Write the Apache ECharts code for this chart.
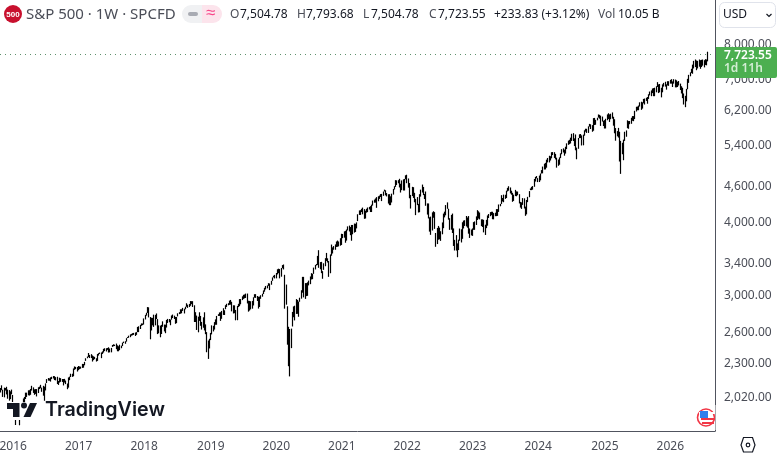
<!DOCTYPE html>
<html><head><meta charset="utf-8">
<style>html,body{margin:0;padding:0;background:#fff}#c{width:777px;height:454px}</style>
<script src="https://cdn.jsdelivr.net/npm/echarts@6/dist/echarts.min.js"></script>
</head><body><div id="c"></div>
<script>
// Weekly [low, high], per year
const bars2015=[[2058,2094],[2076,2116],[2022,2080],[2019,2097],[2073,2094],[2042,2104],[2008,2081],[1993,2077],[2005,2067],[2043,2081]];
const bars2016=[[1918,2038],[1878,1950],[1812,1908],[1872,1940],[1873,1947],[1810,1882],[1864,1930],[1891,1963],[1931,2010],[1971,2022],[2006,2056],[2022,2056],[2035,2075],[2033,2076],[2039,2086],[2073,2112],[2054,2099],[2039,2083],[2046,2085],[2026,2085],[2053,2100],[2085,2105],[2092,2120],[2063,2097],[2032,2112],[1992,2105],[2074,2132],[2135,2168],[2155,2177],[2154,2174],[2147,2183],[2168,2188],[2173,2194],[2160,2193],[2157,2185],[2127,2188],[2119,2152],[2139,2180],[2145,2176],[2144,2169],[2115,2169],[2139,2170],[2126,2156],[2084,2131],[2097,2182],[2159,2189],[2186,2214],[2187,2214],[2192,2260],[2248,2278],[2254,2274],[2233,2273]];
const bars2017=[[2245,2282],[2254,2278],[2258,2276],[2265,2301],[2267,2300],[2288,2319],[2328,2352],[2352,2368],[2363,2401],[2354,2383],[2354,2390],[2322,2378],[2335,2370],[2344,2365],[2322,2352],[2328,2391],[2377,2399],[2392,2405],[2353,2406],[2392,2416],[2405,2440],[2419,2446],[2415,2446],[2430,2448],[2405,2455],[2407,2443],[2407,2449],[2459,2477],[2465,2484],[2467,2480],[2437,2491],[2417,2474],[2417,2465],[2428,2480],[2446,2471],[2467,2500],[2496,2510],[2489,2514],[2510,2544],[2545,2555],[2548,2569],[2554,2582],[2569,2587],[2573,2594],[2577,2597],[2566,2601],[2577,2605],[2605,2658],[2605,2665],[2637,2680],[2670,2695],[2677,2694]];
const bars2018=[[2683,2748],[2737,2787],[2778,2810],[2808,2873],[2759,2870],[2533,2763],[2622,2755],[2675,2754],[2659,2789],[2675,2787],[2742,2802],[2585,2741],[2593,2675],[2553,2672],[2586,2680],[2660,2717],[2612,2683],[2594,2682],[2652,2732],[2700,2743],[2707,2742],[2676,2736],[2735,2780],[2753,2790],[2742,2778],[2691,2764],[2698,2764],[2770,2804],[2795,2816],[2799,2848],[2804,2848],[2830,2864],[2802,2855],[2848,2877],[2876,2916],[2864,2900],[2873,2908],[2887,2941],[2906,2940],[2874,2940],[2710,2893],[2710,2816],[2627,2779],[2603,2767],[2722,2815],[2670,2775],[2631,2711],[2650,2760],[2622,2815],[2584,2685],[2408,2605],[2346,2521],[2444,2538]];
const bars2019=[[2525,2597],[2582,2675],[2612,2670],[2631,2709],[2681,2738],[2681,2775],[2775,2794],[2775,2813],[2722,2816],[2744,2830],[2786,2860],[2785,2837],[2849,2894],[2874,2910],[2893,2917],[2898,2946],[2900,2954],[2825,2933],[2802,2893],[2805,2892],[2728,2841],[2729,2886],[2873,2910],[2883,2964],[2904,2964],[2952,2996],[2966,3014],[2973,3018],[2977,3028],[2914,3029],[2822,2945],[2834,2943],[2847,2939],[2855,2943],[2891,2985],[2980,3021],[2978,3022],[2942,3000],[2856,2991],[2874,2993],[2967,3009],[2992,3027],[3023,3066],[3051,3098],[3078,3120],[3091,3127],[3121,3154],[3070,3150],[3135,3183],[3183,3226],[3226,3247],[3213,3258]];
const bars2020=[[3214,3282],[3264,3330],[3280,3338],[3214,3333],[3235,3347],[3344,3385],[3328,3393],[2855,3259],[2900,3137],[2480,2882],[2280,2660],[2191,2637],[2447,2641],[2663,2819],[2761,2880],[2727,2888],[2797,2964],[2798,2954],[2766,2935],[2933,2980],[2969,3068],[3039,3233],[2984,3233],[2966,3155],[2999,3155],[3002,3165],[3127,3186],[3142,3238],[3200,3280],[3204,3272],[3271,3352],[3328,3387],[3380,3400],[3387,3509],[3349,3588],[3330,3425],[3280,3428],[3209,3306],[3323,3409],[3370,3478],[3440,3550],[3420,3476],[3233,3440],[3279,3529],[3511,3668],[3542,3628],[3594,3646],[3594,3670],[3633,3712],[3636,3726],[3642,3712],[3652,3760]];
const bars2021=[[3662,3826],[3761,3823],[3768,3862],[3694,3870],[3725,3890],[3876,3938],[3860,3950],[3805,3928],[3723,3960],[3818,3960],[3843,3982],[3853,3978],[3907,4000],[4020,4129],[4118,4191],[4118,4195],[4165,4218],[4128,4238],[4056,4213],[4061,4187],[4155,4218],[4164,4240],[4207,4249],[4165,4262],[4165,4287],[4271,4356],[4320,4372],[4321,4393],[4234,4415],[4344,4430],[4385,4442],[4417,4468],[4347,4471],[4437,4513],[4514,4546],[4446,4535],[4427,4486],[4305,4465],[4278,4466],[4278,4429],[4323,4475],[4459,4559],[4548,4608],[4595,4718],[4630,4714],[4660,4718],[4585,4743],[4495,4652],[4537,4713],[4531,4732],[4531,4740],[4733,4808]];
const bars2022=[[4662,4819],[4582,4749],[4395,4665],[4222,4453],[4433,4596],[4401,4590],[4327,4490],[4115,4385],[4279,4416],[4157,4300],[4162,4466],[4424,4546],[4495,4637],[4450,4594],[4382,4470],[4268,4513],[4124,4308],[4062,4307],[3858,4081],[3810,4091],[3875,4160],[4073,4178],[3900,4164],[3636,3838],[3675,3914],[3738,3945],[3744,3919],[3721,3864],[3818,3999],[3910,4140],[4079,4171],[4112,4280],[4218,4325],[4043,4219],[3885,4066],[3887,4119],[3837,4140],[3648,3907],[3584,3736],[3583,3806],[3491,3685],[3590,3739],[3722,3905],[3698,3894],[3751,4002],[3906,4028],[3945,4034],[3938,4101],[3918,4077],[3827,4100],[3764,3906],[3802,3890]];
const bars2023=[[3794,3907],[3885,4004],[3885,4015],[3960,4095],[4037,4196],[4060,4177],[4047,4157],[3943,4048],[3928,4048],[3847,4040],[3808,3964],[3911,4040],[3949,4110],[4069,4133],[4098,4164],[4114,4170],[4050,4170],[4048,4148],[4098,4154],[4099,4213],[4103,4213],[4167,4290],[4260,4300],[4299,4449],[4341,4400],[4328,4458],[4385,4456],[4400,4528],[4514,4578],[4527,4607],[4479,4585],[4457,4527],[4335,4490],[4350,4458],[4433,4542],[4430,4515],[4448,4512],[4307,4466],[4238,4333],[4216,4325],[4283,4398],[4223,4394],[4104,4254],[4127,4366],[4329,4420],[4413,4520],[4537,4568],[4537,4596],[4546,4610],[4597,4739],[4692,4778],[4751,4794]];
const bars2024=[[4682,4755],[4683,4803],[4714,4842],[4842,4907],[4845,4975],[4918,5031],[4920,5048],[4953,5111],[5057,5145],[5056,5190],[5094,5180],[5138,5262],[5204,5265],[5146,5263],[5116,5228],[4954,5151],[4990,5114],[5011,5157],[5142,5239],[5220,5325],[5256,5342],[5191,5315],[5234,5376],[5327,5448],[5416,5506],[5430,5524],[5445,5570],[5499,5655],[5497,5669],[5390,5555],[5302,5640],[5119,5358],[5333,5563],[5560,5643],[5560,5650],[5402,5620],[5406,5636],[5613,5733],[5702,5768],[5674,5767],[5674,5822],[5815,5878],[5762,5869],[5700,5850],[5723,6012],[5853,6017],[5858,5972],[5960,6021],[6024,6099],[6000,6089],[5832,6070],[5932,6049],[5829,5950]];
const bars2025=[[5773,5965],[5774,5997],[5962,6100],[5991,6128],[5923,6101],[5986,6116],[6000,6147],[5837,6044],[5666,5986],[5504,5783],[5599,5715],[5572,5787],[5074,5700],[4835,5500],[5220,5460],[5100,5528],[5500,5700],[5590,5730],[5780,5960],[5767,5943],[5870,5944],[5880,6020],[5950,6060],[5940,6060],[5990,6187],[6170,6285],[6200,6290],[6200,6315],[6290,6395],[6210,6410],[6240,6395],[6370,6480],[6340,6490],[6430,6510],[6360,6530],[6480,6600],[6570,6670],[6550,6700],[6630,6750],[6550,6760],[6550,6770],[6650,6810],[6790,6920],[6630,6860],[6650,6870],[6520,6770],[6650,6860],[6800,6900],[6800,6930],[6720,6860],[6830,6945],[6820,6945]];
const bars2026=[[6880,6980],[6880,7000],[6790,6940],[6880,7000],[6780,6990],[6780,6970],[6790,6930],[6830,6950],[6710,6880],[6620,6810],[6500,6770],[6340,6620],[6275,6560],[6420,6740],[6730,7010],[6900,7120],[7080,7190],[7170,7290],[7150,7410],[7300,7520],[7340,7560],[7250,7530],[7300,7520],[7350,7560],[7290,7540],[7340,7550],[7380,7560],[7330,7540],[7400,7570],[7390,7560],[7504.78,7793.68]];
const lastPrice=7723.55;
const yTicks=[8000,7000,6200,5400,4600,4000,3400,3000,2600,2300,2020];
const weekCount=568, firstWeek=Date.UTC(2015,9,26);

const bars=[].concat(bars2015,bars2016,bars2017,bars2018,bars2019,bars2020,bars2021,bars2022,bars2023,bars2024,bars2025,bars2026);
const weeks=[];for(let i=0;i<weekCount;i++)weeks.push(new Date(firstWeek+i*7*864e5).toISOString().slice(0,10));
const yr=i=>weeks[i].slice(0,4);
const mainFont='"Noto Sans",sans-serif', tc='#4a4d57';
const t=(x,y,text,fill,size,extra)=>({type:'text',x,y,z:100,style:Object.assign({text,fill,font:(extra&&extra.font)||`${size}px ${mainFont}`,verticalAlign:'middle',align:'left'},extra&&extra.s||{})});

const chart=echarts.init(document.getElementById('c'),null,{renderer:'canvas'});
chart.setOption({
 animation:false,backgroundColor:'#fff',
 grid:{left:0,top:0,width:715,height:431,containLabel:false,outerBoundsMode:'none'},
 xAxis:{type:'category',data:weeks,boundaryGap:true,
  axisLine:{show:true,onZero:false,lineStyle:{color:'#50535e',width:1}},axisTick:{show:false},splitLine:{show:false},
  axisLabel:{hideOverlap:false,interval:(i)=>i>0&&yr(i)!==yr(i-1),formatter:v=>v.slice(0,4),color:tc,fontFamily:'"Noto Sans"',fontSize:12,margin:10}},
 yAxis:{type:'log',logBase:10,min:1770,max:9539,position:'right',scale:true,
  axisLine:{show:true,lineStyle:{color:'#50535e',width:1}},axisTick:{show:false},splitLine:{show:false},minorTick:{show:false},
  axisLabel:{customValues:yTicks,formatter:v=>Number(v).toLocaleString('en-US',{minimumFractionDigits:2,maximumFractionDigits:2}),color:tc,fontFamily:'"Noto Sans"',fontSize:12,margin:9,align:'left'}},
 series:[{type:'candlestick',barWidth:1,data:bars.map(b=>[b[0],b[1],b[0],b[1]]),clip:true,
  itemStyle:{color:'#000',color0:'#000',borderColor:'#000',borderColor0:'#000',borderWidth:1.2},
  markLine:{silent:true,symbol:'none',label:{show:false},animation:false,data:[{yAxis:lastPrice}],lineStyle:{color:'#5f8f6c',type:[1,4],width:1}}}],
 graphic:[
  // header
  {type:'circle',z:100,shape:{cx:13,cy:14,r:9},style:{fill:'#c8102e'}},
  t(13,14.5,'500','#fff',0,{font:'bold 8px "Liberation Sans"',s:{align:'center'}}),
  t(26,14.5,'S&P 500 · 1W · SPCFD','#4a4d57',15),
  {type:'rect',z:100,shape:{x:182,y:5,width:20,height:18,r:[9,0,0,9]},style:{fill:'#f0f1f3'}},
  {type:'rect',z:100,shape:{x:202,y:5,width:20,height:18,r:[0,9,9,0]},style:{fill:'#fce4ec'}},
  {type:'rect',z:101,shape:{x:188,y:12,width:10,height:4,r:2},style:{fill:'#a8abb3'}},
  t(206,13.5,'≈','#f7478a',17),
  t(230,14.5,'O','#4a4d57',12),t(240,14.5,'7,504.78','#131722',12),
  t(297,14.5,'H','#4a4d57',12),t(306,14.5,'7,793.68','#131722',12),
  t(363,14.5,'L','#4a4d57',12),t(371,14.5,'7,504.78','#131722',12),
  t(429,14.5,'C','#4a4d57',12),t(438,14.5,'7,723.55','#131722',12),
  t(494,14.5,'+233.83 (+3.12%)','#131722',12),
  t(598,14.5,'Vol','#4a4d57',12),t(618,14.5,'10.05 B','#131722',12),
  // USD button
  {type:'rect',z:100,shape:{x:719.5,y:2.5,width:56,height:25,r:5},style:{fill:'#fff',stroke:'#e0e3eb',lineWidth:1}},
  t(723,15,'USD','#131722',12),
  {type:'polyline',z:100,shape:{points:[[766.5,14],[769,16.5],[771.5,14]]},style:{stroke:'#131722',lineWidth:1.2,fill:null}},
  // last price tag
  {type:'rect',z:100,shape:{x:716,y:47,width:61,height:31,r:[0,2,2,0]},style:{fill:'#4caf50'}},
  t(724,55.5,'7,723.55','#fff',12,{font:`600 12px ${mainFont}`}),
  t(724,69,'1d 11h','#d3edd4',12,{font:`600 12px ${mainFont}`}),
  // TradingView logo
  {type:'rect',z:90,shape:{x:5,y:402,width:162,height:18},style:{fill:'#fff'}},
  {type:'polygon',z:100,shape:{points:[[7,403],[19.5,403],[19.5,417],[13,417],[13,409],[7,409]]},style:{fill:'#131722'}},
  {type:'circle',z:100,shape:{cx:24,cy:405.5,r:3},style:{fill:'#131722'}},
  {type:'polygon',z:100,shape:{points:[[30,403],[37,403],[30.5,417],[23.5,417]]},style:{fill:'#131722'}},
  t(45,410.5,'TradingView','#131722',19.7,{font:'600 19.7px Inter'}),
  // flag
  {type:'circle',z:100,shape:{cx:706,cy:417.5,r:8.5},style:{fill:'#fff',stroke:'#f23645',lineWidth:1.6}},
  {type:'rect',z:101,shape:{x:699,y:412,width:16,height:2},style:{fill:'#fff'}},
  {type:'rect',z:101,shape:{x:701,y:418,width:14,height:2},style:{fill:'#f23645'}},
  {type:'rect',z:101,shape:{x:702,y:422,width:12,height:2},style:{fill:'#f23645'}},
  {type:'rect',z:102,shape:{x:700,y:411,width:8,height:7},style:{fill:'#2f80ed'}},
  {type:'rect',z:103,shape:{x:715.5,y:405,width:8,height:25},style:{fill:'#fff'}},
  // settings hexagon
  {type:'polygon',z:100,shape:{points:[[743.5,437.5],[752.5,437.5],[755,445],[752.5,452],[743.5,452],[741,445]]},style:{fill:'#fff',stroke:'#131722',lineWidth:1.2}},
  {type:'circle',z:101,shape:{cx:748,cy:445,r:1.8},style:{fill:'#fff',stroke:'#131722',lineWidth:1.2}}
 ]
});
</script></body></html>
